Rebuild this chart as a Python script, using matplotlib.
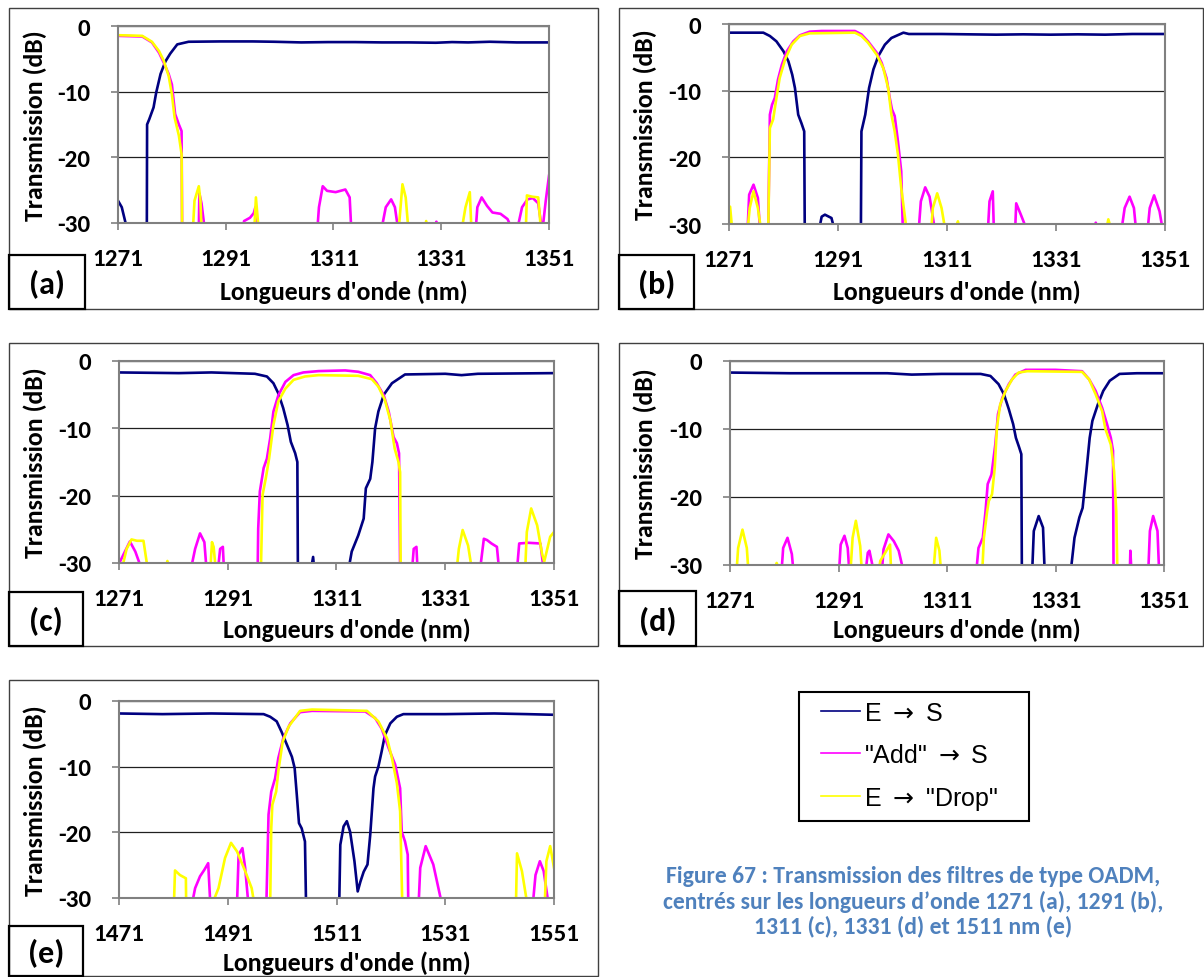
import matplotlib
matplotlib.use('Agg')
import matplotlib.pyplot as plt
from matplotlib import font_manager as fm
from matplotlib.patches import Rectangle
from matplotlib.lines import Line2D

# police grasse type Calibri : on prend la première famille qui a un vrai gras
def has_bold(name):
    for f in fm.fontManager.ttflist:
        w = f.weight if isinstance(f.weight, int) else {'bold': 700, 'heavy': 800, 'black': 900}.get(f.weight, 400)
        if f.name == name and w >= 700:
            return True
    return False

BOLD_FONT = next((n for n in ['Carlito', 'Lato', 'Roboto', 'Open Sans', 'Noto Sans'] if has_bold(n)), 'DejaVu Sans')
plt.rcParams['font.family'] = [BOLD_FONT, 'DejaVu Sans']
plt.rcParams['mathtext.fontset'] = 'dejavusans'

# --- données (dB, nm) ; -31 = sous l'axe (hors cadre) ---
# (a) 1271 nm
a_es_x = [1271, 1271.7, 1272.7, 1276.35, 1276.4, 1276.8, 1277.6, 1278.1, 1278.9, 1279.8, 1280.7, 1282.0, 1284.1,
          1290, 1296, 1300, 1305, 1310, 1315, 1320, 1325, 1330, 1333, 1336, 1340, 1345, 1351]
a_es_y = [-26.6, -27.6, -31, -31, -15.0, -14.2, -12.4, -10.1, -7.3, -5.4, -4.2, -2.8, -2.4,
          -2.35, -2.35, -2.4, -2.5, -2.45, -2.45, -2.5, -2.5, -2.55, -2.45, -2.5, -2.4, -2.5, -2.5]
a_add_x = [1271, 1275.5, 1277.3, 1278.6, 1279.5, 1280.4, 1281.0, 1281.6, 1282.3, 1282.8, 1282.9,
           1286.0, 1286.1, 1286.5, 1287.1,
           1294.2, 1294.4, 1295.5, 1296.2, 1296.5, 1296.6,
           1308.0, 1308.3, 1309.0, 1309.8, 1311.4, 1313.2, 1314.0, 1314.3,
           1319.9, 1320.7, 1321.7, 1322.4, 1323.0,
           1329.9, 1330.1, 1330.3,
           1337.4, 1337.7, 1338.5, 1339.5, 1340.5, 1342.0, 1343.3, 1344.2,
           1345.1, 1346.0, 1347.0, 1348.0, 1349.0, 1349.6, 1349.8, 1350.4, 1351]
a_add_y = [-1.5, -1.6, -2.5, -4.05, -5.6, -7.3, -8.9, -13.4, -15.0, -16.0, -31,
           -31, -25.5, -27.0, -31,
           -31, -29.7, -29.2, -28.5, -27.6, -31,
           -31, -27.6, -24.4, -25.1, -25.3, -24.9, -26.1, -31,
           -31, -27.6, -26.4, -27.6, -31,
           -31, -29.8, -31,
           -31, -27.6, -26.1, -27.4, -28.4, -28.6, -29.4, -31,
           -31, -27.6, -26.4, -26.2, -27.0, -30.5, -31, -26.6, -22.8]
a_drop_x = [1271, 1275.5, 1277.3, 1278.6, 1279.5, 1280.4, 1281.0, 1281.5, 1282.3, 1282.8, 1282.9,
            1284.9, 1285.2, 1286.0, 1286.3, 1286.5,
            1296.3, 1296.6, 1297.1,
            1323.1, 1323.8, 1324.4, 1324.9,
            1328.0, 1328.2, 1328.5,
            1334.8, 1335.5, 1336.3, 1336.6,
            1346.7, 1346.9, 1347.9, 1349.0, 1349.5]
a_drop_y = [-1.4, -1.5, -2.4, -3.8, -5.3, -7.6, -10.4, -13.9, -16.7, -19.5, -31,
            -31, -26.6, -24.4, -26.6, -31,
            -31, -26.1, -31,
            -31, -24.1, -26.1, -31,
            -31, -29.7, -31,
            -31, -27.6, -25.3, -31,
            -31, -25.8, -26.0, -26.1, -31]

# (b) 1291 nm
b_es_x = [1271, 1277.3, 1278.5, 1279.7, 1281.0, 1281.9, 1282.6, 1283.1, 1283.7, 1284.3, 1284.8, 1284.9,
          1287.5, 1288.0, 1288.6, 1289.8, 1290.4,
          1295.2, 1295.3, 1296.0, 1296.7, 1297.5, 1298.4, 1299.6, 1300.8, 1303.0, 1304,
          1310, 1315, 1320, 1325, 1330, 1335, 1340, 1345, 1351]
b_es_y = [-1.3, -1.3, -1.8, -2.6, -4.1, -5.6, -7.6, -9.6, -13.6, -14.9, -16.1, -31,
          -31, -28.9, -28.6, -29.1, -31,
          -31, -16.1, -13.6, -9.6, -6.8, -4.8, -3.1, -2.1, -1.3, -1.5,
          -1.5, -1.55, -1.6, -1.55, -1.6, -1.55, -1.6, -1.5, -1.5]
b_add_x = [1274.4, 1274.7, 1275.5, 1276.3, 1276.7,
           1278.2, 1278.5, 1278.9, 1279.4, 1280.0, 1280.7, 1281.6, 1282.8, 1284.0, 1285.8, 1288.0, 1294.1,
           1295.3, 1296.5, 1298.1, 1299.0, 1299.9, 1300.5, 1300.9, 1301.4, 1302.0, 1302.6, 1302.9,
           1305.8, 1306.2, 1307.0, 1307.8, 1308.8,
           1318.5, 1318.8, 1319.4, 1319.6,
           1323.5, 1323.7, 1324.6, 1325.7,
           1338.1, 1338.3, 1338.5,
           1343.0, 1343.6, 1344.5, 1345.3, 1345.7,
           1347.8, 1348.2, 1349.0, 1350.0, 1350.6]
b_add_y = [-31, -25.6, -24.1, -26.1, -31,
           -31, -13.6, -12.1, -11.1, -8.3, -6.1, -4.1, -2.6, -1.7, -1.15, -1.05, -1.05,
           -1.55, -2.6, -4.3, -5.8, -8.1, -11.1, -12.8, -13.8, -17.6, -22.1, -31,
           -31, -26.6, -24.5, -25.9, -31,
           -31, -26.6, -25.1, -31,
           -31, -26.9, -28.7, -31,
           -31, -29.8, -31,
           -31, -27.6, -25.9, -27.6, -31,
           -31, -27.6, -25.7, -28.1, -31]
b_drop_x = [1271.0, 1271.2, 1271.6,
            1274.4, 1274.8, 1275.5, 1276.3, 1276.9,
            1278.2, 1278.5, 1279.1, 1279.7, 1280.3, 1281.3, 1282.5, 1284.0, 1285.8, 1294.1,
            1295.3, 1296.5, 1298.1, 1299.3, 1300.2, 1300.8, 1301.4, 1302.0, 1302.6, 1303.6,
            1308.1, 1308.4, 1309.2, 1310.0, 1310.7,
            1312.4, 1313.0, 1313.4,
            1340.2, 1340.6, 1341.2]
b_drop_y = [-31, -27.4, -31,
            -31, -27.6, -25.1, -27.6, -31,
            -31, -15.6, -14.3, -11.1, -8.1, -5.3, -3.1, -1.8, -1.4, -1.3,
            -1.8, -2.8, -4.6, -6.6, -9.6, -13.6, -16.1, -19.6, -24.6, -31,
            -31, -27.6, -25.4, -27.6, -31,
            -31, -29.6, -31,
            -31, -29.3, -31]

# (c) 1311 nm
c_es_x = [1271, 1282, 1288, 1296, 1298.2, 1299.4, 1300.3, 1301.2, 1302.0, 1302.6, 1303.4, 1303.8, 1303.9,
          1306.3, 1306.7, 1306.9,
          1313.2, 1313.8, 1315.0, 1316.0, 1316.4, 1317.2, 1317.6, 1318.1, 1318.7, 1319.7, 1321.2, 1323.6,
          1331, 1334, 1337, 1344, 1351]
c_es_y = [-1.7, -1.8, -1.7, -1.9, -2.3, -3.3, -4.8, -7.0, -9.5, -12.0, -13.7, -15.0, -31,
          -31, -29.1, -31,
          -31, -28.3, -25.9, -23.4, -18.9, -17.5, -15.0, -10.0, -7.5, -5.0, -3.3, -2.0,
          -1.9, -2.1, -1.9, -1.85, -1.8]
c_add_x = [1271, 1273.0, 1274.0, 1275.2,
           1284.2, 1285.0, 1285.9, 1286.7, 1287.1,
           1289.2, 1289.6, 1290.1, 1290.3,
           1296.5, 1296.6, 1296.9, 1297.6, 1298.2, 1298.8, 1299.4, 1300.3, 1301.6, 1303.1, 1304.9, 1307.7,
           1312.6, 1315.0, 1317.2, 1318.4, 1319.7, 1320.6, 1321.5, 1322.1, 1322.5, 1322.7,
           1324.9, 1325.2, 1325.7, 1325.9,
           1337.4, 1338.1, 1338.7, 1339.5, 1340.5, 1340.9,
           1344.2, 1344.6, 1346.3, 1348.5, 1349.1]
c_add_y = [-30.1, -26.8, -28.3, -31,
           -31, -27.9, -25.6, -26.9, -31,
           -31, -27.9, -27.6, -31,
           -31, -24.9, -19.4, -15.9, -14.5, -11.5, -7.5, -5.1, -3.1, -2.1, -1.7, -1.5,
           -1.4, -1.6, -2.1, -3.3, -5.1, -7.5, -11.3, -12.2, -13.7, -31,
           -31, -27.9, -27.6, -31,
           -31, -26.4, -26.6, -27.1, -27.6, -31,
           -31, -27.1, -27.0, -27.1, -31]
c_drop_x = [1271.5, 1272.4, 1273.3, 1274.3, 1275.5, 1276.3,
            1279.5, 1279.9, 1280.3,
            1287.8, 1288.1, 1288.4, 1288.8,
            1297.1, 1297.4, 1298.0, 1298.6, 1299.4, 1300.3, 1301.6, 1303.1, 1305.2, 1307.7,
            1315.0, 1317.5, 1318.7, 1319.9, 1320.9, 1321.7, 1322.4, 1322.7, 1322.8,
            1333.1, 1333.5, 1334.2, 1335.2, 1335.9,
            1345.7, 1346.0, 1346.8, 1347.9, 1348.8, 1349.2, 1350.3, 1351]
c_drop_y = [-31, -27.9, -26.5, -26.7, -26.7, -31,
            -31, -29.7, -31,
            -31, -26.9, -27.6, -31,
            -31, -19.9, -17.4, -14.5, -9.5, -6.0, -4.1, -2.8, -2.3, -2.1,
            -2.2, -2.7, -3.8, -5.8, -8.8, -13.0, -15.0, -16.5, -31,
            -31, -27.9, -25.1, -27.4, -31,
            -31, -25.4, -21.9, -24.4, -28.6, -29.8, -26.1, -25.4]

# (d) 1331 nm
d_es_x = [1271, 1282, 1290, 1300, 1304.5, 1310, 1317.2, 1319.0, 1320.5, 1321.5, 1322.4, 1323.2, 1323.7,
          1324.3, 1324.7, 1324.8,
          1326.7, 1327.0, 1327.9, 1328.7, 1329.0,
          1333.8, 1334.5, 1335.4, 1336.0, 1336.7, 1337.3, 1337.8, 1338.8, 1339.8, 1341.0, 1342.8, 1346, 1351]
d_es_y = [-1.7, -1.8, -1.8, -1.8, -2.0, -1.9, -1.9, -2.2, -3.4, -4.9, -7.1, -9.3, -11.3,
          -12.7, -13.7, -31,
          -31, -25.0, -22.8, -24.5, -31,
          -31, -26.0, -23.0, -21.6, -16.2, -11.3, -8.8, -6.4, -4.4, -2.9, -1.9, -1.8, -1.8]
d_add_x = [1280.5, 1280.8, 1281.6, 1282.4, 1282.7,
           1291.1, 1291.4, 1292.1, 1292.7, 1293.0,
           1296.0, 1296.4, 1296.7, 1297.5,
           1299.0, 1299.3, 1300.2, 1301.2, 1302.1, 1303.0,
           1316.4, 1316.8, 1317.6, 1318.1, 1318.5, 1319.2, 1319.9, 1320.4, 1321.2, 1322.4, 1323.6, 1325.5,
           1331, 1335.9, 1337.2, 1338.4, 1339.6, 1340.5, 1341.2, 1341.6, 1341.7,
           1344.7, 1344.8, 1345.0,
           1348.1, 1348.4, 1349.0, 1349.8, 1350.1]
d_add_y = [-31, -27.5, -26.0, -28.4, -31,
           -31, -27.0, -25.7, -27.5, -31,
           -31, -28.2, -27.9, -31,
           -31, -27.7, -25.5, -26.5, -27.9, -31,
           -31, -27.5, -26.0, -22.1, -18.1, -16.7, -12.3, -7.8, -5.4, -3.4, -2.0, -1.3,
           -1.3, -1.5, -2.7, -4.4, -6.9, -9.3, -11.3, -13.2, -31,
           -31, -27.9, -31,
           -31, -25.0, -22.8, -25.0, -31]
d_drop_x = [1272.2, 1272.5, 1273.3, 1274.1, 1274.4,
            1279.0, 1279.6, 1280.2,
            1293.2, 1293.6, 1294.2, 1295.0, 1295.3,
            1298.4, 1298.7, 1299.6, 1300.5, 1300.7,
            1308.5, 1309.0, 1309.6, 1309.9,
            1317.5, 1317.8, 1318.4, 1318.7, 1319.3, 1319.8, 1320.2, 1320.8, 1321.8, 1323.0, 1324.2, 1325.8,
            1335.9, 1337.2, 1338.4, 1339.6, 1340.2, 1341.2, 1341.8, 1342.2, 1342.4]
d_drop_y = [-31, -27.5, -24.8, -27.5, -31,
            -31, -29.7, -31,
            -31, -26.0, -23.5, -27.2, -31,
            -31, -29.4, -28.2, -27.0, -31,
            -31, -26.0, -27.9, -31,
            -31, -26.0, -22.1, -20.6, -19.6, -15.7, -9.8, -6.4, -4.4, -2.7, -1.7, -1.5,
            -1.6, -2.7, -4.9, -7.4, -10.0, -12.3, -16.2, -22.1, -31]

# (e) 1511 nm
e_es_x = [1471, 1479, 1488, 1497.6, 1498.8, 1500.0, 1500.9, 1501.9, 1502.8, 1503.3, 1503.7, 1504.1, 1504.6,
          1505.2, 1505.4,
          1511.5, 1511.7, 1512.3, 1512.9, 1513.5, 1514.3, 1514.9, 1515.4, 1516.0, 1516.7, 1517.2, 1517.8,
          1518.1, 1518.7, 1519.3, 1519.9, 1520.9, 1522.1, 1523.3, 1531, 1540, 1546, 1551]
e_es_y = [-1.9, -2.0, -1.9, -2.0, -2.4, -3.1, -4.7, -6.7, -8.5, -10.2, -14.3, -18.6, -19.4,
          -21.4, -31,
          -31, -21.9, -19.1, -18.3, -19.9, -24.4, -29.0, -27.5, -26.0, -24.9, -20.4, -13.3,
          -11.5, -10.0, -7.7, -5.2, -3.4, -2.4, -2.0, -2.0, -1.9, -2.0, -2.1]
e_add_x = [1484.4, 1485.0, 1485.9, 1486.7, 1487.4, 1487.8,
           1492.7, 1493.0, 1493.7, 1494.2, 1494.8,
           1498.1, 1498.5, 1499.0, 1499.7, 1500.3, 1501.2, 1502.5, 1504.3, 1506.5, 1516.3, 1518.1,
           1519.3, 1520.6, 1521.8, 1522.7, 1523.0, 1523.6, 1524.1, 1524.2,
           1526.1, 1526.4, 1527.4, 1528.8, 1530.4,
           1547.1, 1547.6, 1548.4, 1549.1, 1550.0]
e_add_y = [-31, -28.5, -26.7, -25.7, -24.7, -31,
           -31, -23.4, -22.4, -25.4, -31,
           -31, -17.3, -13.8, -11.8, -8.7, -5.7, -3.4, -1.7, -1.5, -1.6, -2.6,
           -4.2, -7.2, -9.7, -13.3, -19.9, -21.4, -23.4, -31,
           -31, -25.4, -22.1, -24.9, -31,
           -31, -26.5, -24.4, -25.9, -31]
e_drop_x = [1481.1, 1481.3, 1482.2, 1483.3, 1483.35,
            1488.1, 1489.3, 1490.5, 1491.6, 1492.7, 1494.2, 1495.4, 1495.9,
            1498.8, 1499.0, 1499.2, 1499.9, 1500.3, 1501.1, 1502.2, 1504.3, 1506.5, 1516.6, 1518.7,
            1520.3, 1521.2, 1522.1, 1522.7, 1523.1,
            1544.0, 1544.2, 1545.1, 1546.1,
            1549.3, 1549.6, 1550.3, 1551]
e_drop_y = [-31, -25.8, -26.5, -27.0, -31,
            -31, -28.5, -23.9, -21.6, -22.9, -25.9, -28.5, -31,
            -31, -19.4, -15.8, -13.8, -10.7, -6.2, -3.9, -1.5, -1.3, -1.5, -3.1,
            -5.7, -8.7, -12.5, -16.8, -31,
            -31, -23.2, -25.9, -31,
            -31, -24.4, -22.1, -25.4]

ticks_1271 = [1271, 1291, 1311, 1331, 1351]
ticks_1471 = [1471, 1491, 1511, 1531, 1551]
y_ticks = [0, -10, -20, -30]
y_tick_labels = ['0', '-10', '-20', '-30']
series_names = ['E $\\rightarrow$ S', '"Add" $\\rightarrow$ S', 'E $\\rightarrow$ "Drop"']
series_colors = ['#000080', '#FF00FF', '#FFFF00']
caption = ("Figure 67 : Transmission des filtres de type OADM,\n"
           "centrés sur les longueurs d\u2019onde 1271 (a), 1291 (b),\n"
           "1311 (c), 1331 (d) et 1511 nm (e)")

# --- mise en page en pixels ---
W, H = 1204, 978
fig = plt.figure(figsize=(W / 100, H / 100), dpi=100)

def rect(l, t, r, b):
    return [l / W, 1 - b / H, (r - l) / W, (b - t) / H]

bg = fig.add_axes([0, 0, 1, 1])
bg.set_xlim(0, W)
bg.set_ylim(H, 0)
bg.axis('off')

# lettre, zone de tracé, cadre extérieur, cadre de la lettre, y du titre x, ticks, données
panels = [
    ('(a)', (118, 27, 549, 224), (9, 9, 598, 310), (9, 256, 85, 310), 292, ticks_1271,
     [(a_es_x, a_es_y), (a_add_x, a_add_y), (a_drop_x, a_drop_y)]),
    ('(b)', (729, 25, 1165, 225), (619, 9, 1203, 310), (619, 256, 694, 310), 292, ticks_1271,
     [(b_es_x, b_es_y), (b_add_x, b_add_y), (b_drop_x, b_drop_y)]),
    ('(c)', (119, 362, 554, 564), (9, 344, 598, 647), (9, 593, 83, 647), 630, ticks_1271,
     [(c_es_x, c_es_y), (c_add_x, c_add_y), (c_drop_x, c_drop_y)]),
    ('(d)', (730, 362, 1164, 566), (619, 344, 1203, 647), (619, 592, 696, 647), 630, ticks_1271,
     [(d_es_x, d_es_y), (d_add_x, d_add_y), (d_drop_x, d_drop_y)]),
    ('(e)', (119, 702, 554, 899), (9, 681, 598, 977), (9, 927, 83, 977), 963, ticks_1471,
     [(e_es_x, e_es_y), (e_add_x, e_add_y), (e_drop_x, e_drop_y)]),
]

for letter, pa, outer, lab, xlab_y, ticks, data in panels:
    bg.add_patch(Rectangle((outer[0], outer[1]), outer[2] - outer[0], outer[3] - outer[1],
                           fill=False, edgecolor='#404040', lw=1.0))
    bg.add_patch(Rectangle((lab[0], lab[1]), lab[2] - lab[0], lab[3] - lab[1],
                           fill=False, edgecolor='black', lw=1.6))
    bg.text((lab[0] + lab[2]) / 2, (lab[1] + lab[3]) / 2 + 2, letter, ha='center', va='center',
            fontsize=23, fontweight='bold')
    bg.text(outer[0] + 26, (pa[1] + pa[3]) / 2, 'Transmission (dB)', rotation=90,
            ha='center', va='center', fontsize=18.5, fontweight='bold')
    bg.text((pa[0] + pa[2]) / 2 + 10, xlab_y, "Longueurs d'onde (nm)",
            ha='center', va='center', fontsize=18.5, fontweight='bold')

    ax = fig.add_axes(rect(*pa))
    ax.set_facecolor('none')
    for (x, y), c in zip(data, series_colors):
        ax.plot(x, y, color=c, lw=1.9, solid_joinstyle='round')
    ax.set_xlim(ticks[0], ticks[-1])
    ax.set_ylim(-30, 0)
    ax.set_xticks(ticks)
    ax.set_xticklabels([str(t) for t in ticks])
    ax.set_yticks(y_ticks)
    ax.set_yticklabels(y_tick_labels)
    ax.yaxis.grid(True, color='#202020', lw=0.9)
    ax.set_axisbelow(True)
    for s in ax.spines.values():
        s.set_color('#808080')
        s.set_linewidth(1.5)
    ax.tick_params(direction='out', length=5, width=1.2, color='#808080', labelsize=18)
    ax.tick_params(axis='y', pad=15)
    ax.tick_params(axis='x', pad=13)
    for t in ax.get_xticklabels() + ax.get_yticklabels():
        t.set_fontweight('bold')

# légende : cadre dessiné à part pour garder ses marges
bg.add_patch(Rectangle((799, 693), 230, 129, fill=False, edgecolor='black', lw=1.5))
handles = [Line2D([], [], color=c, lw=1.2) for c in series_colors]
fig.legend(handles, series_names, loc='upper left', bbox_to_anchor=(821 / W, 1 - 702 / H),
           prop={'family': ['Liberation Sans', 'DejaVu Sans'], 'size': 18},
           frameon=False, handlelength=1.55, handletextpad=0.15, labelspacing=0.72,
           borderpad=0, borderaxespad=0)

bg.text(913, 902, caption, ha='center', va='center', fontsize=17, fontweight='bold',
        color='#4F81BD', linespacing=1.18)

fig.savefig('out.png', dpi=100)
